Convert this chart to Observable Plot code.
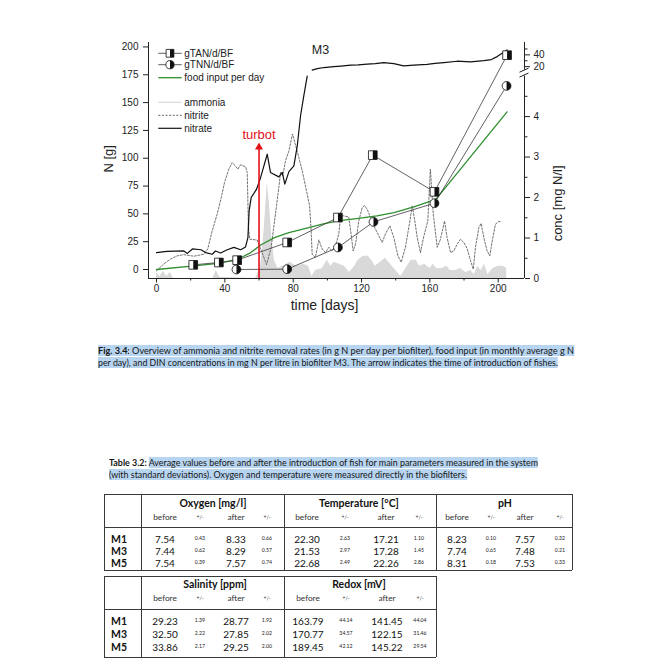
<!DOCTYPE html>
<html><head><meta charset="utf-8">
<script src="https://cdn.jsdelivr.net/npm/d3@7"></script>
<script src="https://cdn.jsdelivr.net/npm/@observablehq/plot@0.6"></script>
<style>
html,body{margin:0;padding:0;background:#fff;}
#page{position:relative;width:669px;height:669px;overflow:hidden;background:#fff;}
#chart{position:absolute;left:0;top:0;}
.cap{position:absolute;white-space:nowrap;font-family:Lato,'Open Sans',sans-serif;font-size:9.6px;line-height:11px;height:11px;color:#151515;transform-origin:0 50%;}
.cap .hl{background:#b7d4f0;}
.cap b{font-weight:700;}
.cell{position:absolute;transform:translate(-50%,-50%);white-space:nowrap;font-family:Lato,'Open Sans',sans-serif;color:#111;line-height:1;}
.title{font-weight:700;font-size:10.5px;}
.site{font-weight:700;font-size:10.5px;}
.sub{font-size:8.3px;color:#333;}
.pm{font-size:5px;color:#333;}
.val{font-size:10px;}
.sd{font-size:5.2px;color:#222;}
.ln{position:absolute;background:#3a3a3a;}
</style></head>
<body><div id="page"><div id="chart"></div></div>
<script>
// ---------------- data ----------------
const tanDays   = [21.5, 36.5, 47.2, 76.5, 106.2, 126.6, 162.7, 205.2];
const tanValues = [4.2, 6.3, 8.4, 24.3, 46.7, 102.8, 69.8, 192.6];
const tnnDays   = [46.8, 76.5, 106.2, 127.0, 162.7, 204.9];
const tnnValues = [0, 0.3, 19.8, 42.8, 59.6, 165];
const foodDays   = [0, 22, 36, 47, 55, 61, 69, 77.5, 88, 97, 106, 117, 129, 139, 150.6, 163.5, 205.2];
const foodValues = [0, 3.3, 5.5, 8.8, 15, 22, 28.7, 33.2, 37.2, 40.8, 43.7, 45.8, 48.2, 51.2, 56.3, 63, 141.7];
// concentrations on the right axis (mg N/l)
const nitrateDays = [0, 6, 16, 18, 21, 26, 28.7, 32.6, 34.5, 37.5, 41.4, 45.3, 49.2, 52.1, 53.5, 54.2, 55.4, 58.5, 60.9, 64.8, 66.7, 71.6, 73.6, 75.1, 77.5, 80.4, 82.4, 84.3, 86.2, 88.2,
  91.1, 94.1, 98, 103.8, 108, 113.6, 118, 123.3, 128, 133, 138.9, 144.7, 150.6, 158.4, 163, 168.2, 176, 183.8, 191.6, 196, 199.4, 205.2];
const nitrateConc = [0.64, 0.67, 0.68, 0.62, 0.73, 0.71, 0.64, 0.60, 0.68, 0.63, 0.71, 0.77, 0.71, 0.78, 1.01, 1.67, 2.0, 2.2, 2.49, 3.07, 2.62, 2.51, 2.62, 2.33, 2.64, 2.78, 3.28, 4.02, 4.51, 5.0,
  14, 16.6, 18.5, 20, 21, 22.5, 23, 24.2, 25, 26.8, 25.1, 21.3, 22.5, 23.9, 25.5, 26.8, 29.2, 28, 30.2, 32, 37, 48.3];
const nitriteDays = [0, 4.3, 8.2, 12.1, 16, 21.8, 27.7, 30, 32.6, 35.5, 37.9, 39.8, 42.3, 44.3, 46.2, 47.6, 49.2, 52.1, 53.1, 53.8, 54.6, 58.9, 61.8, 64.4, 67.1, 69.6, 71.6, 72.6, 73.9, 75.5, 77.5, 79.6, 82.3, 85.3, 88.2, 89.6, 90.5, 91.1, 93, 95, 97, 98.9, 100.9, 102.8, 104.8, 106.7, 107.7, 109.2, 112.5, 113.9, 115.1, 116.5, 118.4, 120.4, 121.7, 123.3, 125.3, 127.2, 129.6, 132.1, 134, 136.6, 138.9, 141.3, 143.2, 145.7, 148.3, 149.7, 151, 152.6, 154.5, 156.5, 158.8, 160.3, 162, 164.3, 166.2, 168.6, 170.1, 172.1, 174, 176, 177.9, 179.9, 181.9, 183.8, 185.4, 186.7, 188.7, 190, 191.6, 193.5, 195.1, 196.5, 198.4, 200.4, 201.8];
const nitriteConc = [0.19, 0.36, 0.48, 0.56, 0.59, 0.55, 0.60, 0.73, 1.18, 1.59, 2.0, 2.37, 2.70, 2.86, 2.78, 2.70, 2.81, 2.76, 2.62, 1.26, 0.97, 0.95, 0.64, 0.34, 0.77, 1.59, 2.25, 2.62, 2.54, 2.91, 3.15, 3.57, 3.15, 2.66, 2.08, 1.8, 1.18, 0.6, 0.52, 0.95, 0.73, 0.64, 0.77, 0.68, 0.81, 1.10, 1.51, 1.55, 1.52, 1.10, 0.68, 0.85, 1.42, 1.75, 1.8, 1.71, 1.51, 1.30, 1.10, 0.89, 1.10, 1.30, 1.01, 0.56, 0.40, 0.77, 1.42, 1.8, 1.47, 1.01, 0.64, 1.05, 1.42, 2.7, 1.59, 0.77, 0.97, 1.42, 1.01, 0.64, 0.68, 0.85, 0.97, 0.89, 0.73, 0.44, 0.23, 0.77, 1.26, 1.36, 1.01, 0.68, 0.56, 0.93, 1.34, 1.41, 1.40];
const ammoniaDays = [0, 2, 4, 6, 8, 10, 33, 35, 37, 58, 61, 63, 64.8, 66, 67.5, 69, 71, 74, 78, 82, 86, 89, 91, 93, 97, 100, 102, 104, 107, 110, 113, 116, 118, 121, 124, 126, 128, 131, 134, 137, 140, 143, 146, 149, 152, 154, 157, 160, 162, 164, 167, 170, 172, 175, 178, 181, 184, 186, 188, 190, 192, 194, 197, 200, 203, 205];
const ammoniaConc = [0.15, 0.05, 0.18, 0.05, 0.15, 0, 0, 0.2, 0.03, 0, 0.3, 1.2, 2.35, 1.9, 1.0, 0.45, 0.25, 0.3, 0.4, 0.3, 0.35, 0.3, 0.05, 0.2, 0.25, 0.45, 0.3, 0.4, 0.35, 0.3, 0.15, 0.3, 0.45, 0.55, 0.55, 0.45, 0.3, 0.4, 0.5, 0.35, 0.2, 0.05, 0.25, 0.45, 0.45, 0.3, 0.35, 0.25, 0.35, 0.25, 0.25, 0.3, 0.2, 0.2, 0.25, 0.15, 0.2, 0.1, 0.3, 0.2, 0.35, 0.1, 0.25, 0.3, 0.3, 0.25];
const events = [{day: 60, label: "turbot", top: 110}];

const titleText = "M3";
const xLabel = "time [days]";
const yLabel = "N [g]";
const y2Label = "conc [mg N/l]";
const legendLabels = ["gTAN/d/BF", "gTNN/d/BF", "food input per day", "ammonia", "nitrite", "nitrate"];

const xDomain = [-4.7, 215.4];
const yDomain = [-8.08, 204];
const xMajor = [0, 40, 80, 120, 160, 200];
const xMinor = [20, 60, 100, 140, 180];
const yTicks = [0, 25, 50, 75, 100, 125, 150, 175, 200];
const concMajor = [0, 1, 2, 3, 4, 20, 40];
const concMinor = [0.5, 1.5, 2.5, 3.5, 4.5, 30, 50];
const concBreak = [5.0, 14];   // right axis is broken between these concentrations

// caption / table texts
const figCaptionLabel = "Fig. 3.4:";
const figCaptionLines = ["Overview of ammonia and nitrite removal rates (in g N per day per biofilter), food input (in monthly average g N",
  "per day), and DIN concentrations in mg N per litre in biofilter M3. The arrow indicates the time of introduction of fishes."];
const tableCaptionLabel = "Table 3.2:";
const tableCaptionLines = ["Average values before and after the introduction of fish for main parameters measured in the system",
  "(with standard deviations). Oxygen and temperature were measured directly in the biofilters."];
const subHeaders = ["before", "+/-", "after", "+/-"];
const sites = ["M1", "M3", "M5"];
const oxygen      = [[7.54, 0.43, 8.33, 0.66], [7.44, 0.62, 8.29, 0.57], [7.54, 0.39, 7.57, 0.74]];
const temperature = [[22.30, 2.63, 17.21, 1.10], [21.53, 2.97, 17.28, 1.45], [22.68, 2.49, 22.26, 2.86]];
const pH          = [[8.23, 0.10, 7.57, 0.32], [7.74, 0.65, 7.48, 0.21], [8.31, 0.18, 7.53, 0.33]];
const salinity    = [[29.23, 1.39, 28.77, 1.92], [32.50, 2.22, 27.85, 2.02], [33.86, 2.17, 29.25, 2.00]];
const redox       = [[163.79, 44.14, 141.45, 44.04], [170.77, 34.57, 122.15, 31.46], [189.45, 42.12, 145.22, 29.54]];

// ---------------- chart ----------------
const FONT = "'Liberation Sans', Arial, Helvetica, sans-serif";
const RED = "#e3101a", GREEN = "#2f8f2f";
// right (conc) axis expressed in left-axis units: linear below the break, compressed above it
const lowPerUnit = 36.38, highAt20 = 182.3, highPerUnit = 0.53;
const toN = c => c <= concBreak[0] + 1e-9 ? yDomain[0] + lowPerUnit * c : highAt20 + (c - 20) * highPerUnit;

const tan = tanDays.map((d, i) => ({day: d, N: tanValues[i]}));
const tnn = tnnDays.map((d, i) => ({day: d, N: tnnValues[i]}));
const food = foodDays.map((d, i) => ({day: d, N: foodValues[i]}));
const nitrate = nitrateDays.map((d, i) => ({day: d, c: nitrateConc[i], seg: nitrateConc[i] > concBreak[0] ? "hi" : "lo"}));
const nitrite = nitriteDays.map((d, i) => ({day: d, c: nitriteConc[i]}));
const ammonia = ammoniaDays.map((d, i) => ({day: d, c: ammoniaConc[i]}));

const halfSquare = {draw(ctx, size) { const s = Math.sqrt(size) / 2; ctx.moveTo(0, -s); ctx.lineTo(s, -s); ctx.lineTo(s, s); ctx.lineTo(0, s); ctx.closePath(); }};
const halfCircle = {draw(ctx, size) { const r = Math.sqrt(size / Math.PI); ctx.moveTo(0, -r); ctx.arc(0, 0, r, -Math.PI / 2, Math.PI / 2); ctx.closePath(); }};

const rightLabel = new Map(concMajor.map(c => [toN(c), String(c)]));

function breakMark(index, scales, values, dims) {
  const x = dims.width - dims.marginRight;
  const yA = scales.y(toN(concBreak[0])), yB = scales.y(toN(concBreak[1]));
  const g = d3.create("svg:g").attr("stroke", "#222").attr("stroke-width", 1);
  [yA - 0.5, yB + 0.5].forEach(y => g.append("line").attr("x1", x - 4.5).attr("x2", x + 4.5).attr("y1", y + 2).attr("y2", y - 2));
  return g.node();
}

function legendMark(index, scales, values, dims) {
  const left = dims.marginLeft, top = dims.marginTop;
  const rows = [11.3, 22.7, 35.7, 60.3, 73.3, 86.3];
  const g = d3.create("svg:g").attr("font-family", FONT).attr("font-size", 10).attr("fill", "#222").attr("text-anchor", "start");
  const x0 = left + 10.3, x1 = left + 33.7, xc = (x0 + x1) / 2, tx = left + 36.3;
  const styles = [
    {stroke: "#333", w: 0.8}, {stroke: "#333", w: 0.8}, {stroke: GREEN, w: 1.3},
    {stroke: "#d2d2d2", w: 1}, {stroke: "#555", w: 0.9, dash: "2,1.6"}, {stroke: "#111", w: 1.2}
  ];
  legendLabels.forEach((lab, i) => {
    const y = top + rows[i], s = styles[i];
    g.append("line").attr("x1", x0).attr("x2", x1).attr("y1", y).attr("y2", y)
      .attr("stroke", s.stroke).attr("stroke-width", s.w).attr("stroke-dasharray", s.dash || null);
    if (i < 2) {
      const r = i === 0 ? 4.4 : 4.1;
      const full = d3.symbol(i === 0 ? d3.symbolSquare : d3.symbolCircle, r * r * Math.PI)();
      const half = d3.symbol(i === 0 ? halfSquare : halfCircle, r * r * Math.PI)();
      g.append("path").attr("d", full).attr("transform", `translate(${xc},${y})`).attr("fill", "white").attr("stroke", "#111").attr("stroke-width", 0.8);
      g.append("path").attr("d", half).attr("transform", `translate(${xc},${y})`).attr("fill", "#111");
    }
    g.append("text").attr("x", tx).attr("y", y).attr("dy", "0.35em").attr("text-anchor", "start").text(lab);
  });
  return g.node();
}

const chart = Plot.plot({
  width: 669, height: 320,
  marginLeft: 148, marginRight: 145, marginTop: 42, marginBottom: 42,
  style: {fontFamily: FONT, fontSize: "10px", color: "#222", background: "transparent", overflow: "visible"},
  x: {domain: xDomain},
  y: {domain: yDomain},
  marks: [
    Plot.areaY(ammonia, {x: "day", y1: () => yDomain[0], y2: d => toN(d.c), fill: "#d9d9d9"}),
    Plot.line(nitrite, {x: "day", y: d => toN(d.c), stroke: "#5a5a5a", strokeWidth: 0.85, strokeDasharray: "2,1.6"}),
    Plot.line(nitrate, {x: "day", y: d => toN(d.c), z: "seg", stroke: "#111", strokeWidth: 1.2}),
    Plot.line(food, {x: "day", y: "N", stroke: GREEN, strokeWidth: 1.3}),
    Plot.line(tan, {x: "day", y: "N", stroke: "#3a3a3a", strokeWidth: 0.8}),
    Plot.line(tnn, {x: "day", y: "N", stroke: "#3a3a3a", strokeWidth: 0.8}),
    Plot.dot(tan, {x: "day", y: "N", symbol: "square", r: 4.9, fill: "white", stroke: "#111", strokeWidth: 0.8}),
    Plot.dot(tan, {x: "day", y: "N", symbol: halfSquare, r: 4.9, fill: "#111"}),
    Plot.dot(tnn, {x: "day", y: "N", r: 4.4, fill: "white", stroke: "#111", strokeWidth: 0.8}),
    Plot.dot(tnn, {x: "day", y: "N", symbol: halfCircle, r: 4.4, fill: "#111"}),
    Plot.ruleX(events, {x: "day", y1: () => yDomain[0], y2: "top", stroke: RED, strokeWidth: 1.6}),
    Plot.dot(events, {x: "day", y: "top", symbol: "triangle", r: 3, fill: RED}),
    Plot.text(events, {x: "day", y: "top", text: "label", dy: -12, fill: RED, fontSize: 13}),
    // frame
    Plot.ruleY([yDomain[0]], {stroke: "#222", strokeWidth: 1}),
    Plot.ruleX([xDomain[0]], {stroke: "#222", strokeWidth: 1}),
    Plot.ruleX([xDomain[1]], {y1: () => yDomain[0], y2: () => toN(concBreak[0]), stroke: "#222", strokeWidth: 1}),
    Plot.ruleX([xDomain[1]], {y1: () => toN(concBreak[1]), y2: () => yDomain[1], stroke: "#222", strokeWidth: 1}),
    breakMark,
    // axes
    Plot.axisX(xMajor, {tickSize: 4.5, tickPadding: 2, fontSize: 10, label: null}),
    Plot.axisX(xMinor, {tickSize: 2.5, tickFormat: () => "", label: null}),
    Plot.axisY(yTicks, {anchor: "left", tickSize: 5, tickPadding: 5, fontSize: 10, label: null}),
    Plot.axisY(concMajor.map(toN), {anchor: "right", tickSize: 5, tickPadding: 4, fontSize: 10, tickFormat: d => rightLabel.get(d), label: null}),
    Plot.axisY(concMinor.map(toN), {anchor: "right", tickSize: 2.5, tickFormat: () => "", label: null}),
    Plot.text([xLabel], {text: d => d, frameAnchor: "bottom", dx: -12, dy: 31, fontSize: 14}),
    Plot.text([yLabel], {text: d => d, frameAnchor: "left", dx: -40, dy: 12, rotate: -90, fontSize: 13}),
    Plot.text([y2Label], {text: d => d, frameAnchor: "right", dx: 33, dy: 5, rotate: -90, fontSize: 13}),
    Plot.text([titleText], {text: d => d, frameAnchor: "top", dx: -16, dy: 3, fontSize: 12.5}),
    legendMark
  ]
});
document.getElementById("chart").appendChild(chart);

// ---------------- captions ----------------
const page = document.getElementById("page");
function capLine(parts, left, cy, width) {
  const div = document.createElement("div");
  div.className = "cap";
  div.style.left = left + "px";
  div.style.top = (cy - 5.5) + "px";
  parts.forEach(p => {
    const s = document.createElement(p.bold ? "b" : "span");
    if (p.hl) s.className = "hl";
    s.textContent = p.text;
    div.appendChild(s);
  });
  page.appendChild(div);
  const w = div.getBoundingClientRect().width;
  div.style.transform = `scaleX(${width / w})`;
}
capLine([{text: figCaptionLabel, bold: true, hl: true}, {text: " " + figCaptionLines[0], hl: true}], 98, 350.7, 476);
capLine([{text: figCaptionLines[1], hl: true}], 98, 362.3, 460);
capLine([{text: tableCaptionLabel, bold: true}, {text: " "}, {text: tableCaptionLines[0], hl: true}], 109, 462.3, 429);
capLine([{text: tableCaptionLines[1], hl: true}], 109, 474, 358);

// ---------------- tables ----------------
function addLine(x, y, w, h) {
  const d = document.createElement("div"); d.className = "ln";
  Object.assign(d.style, {left: x + "px", top: y + "px", width: w + "px", height: h + "px"});
  page.appendChild(d);
}
function addText(t, x, y, cls) {
  const d = document.createElement("div"); d.className = "cell " + cls;
  d.style.left = x + "px"; d.style.top = y + "px"; d.textContent = t;
  page.appendChild(d);
}
function buildTable(spec) {
  const {left, right, top, bottom, vlines, sepY, titleY, subY, rowYs, groups, labelX} = spec;
  addLine(left, top, right - left, 0.8);
  addLine(left, bottom, right - left, 0.8);
  addLine(left, sepY, right - left, 0.8);
  addLine(left, top, 1, bottom - top);
  addLine(right, top, 1, bottom - top);
  vlines.forEach((x, i) => addLine(x, top, i === 0 ? 1.5 : 1, bottom - top));
  groups.forEach(g => {
    addText(g.title, g.titleX, titleY, "title");
    subHeaders.forEach((s, j) => addText(s, g.cols[j], subY, j % 2 ? "pm" : "sub"));
    g.data.forEach((row, r) => row.forEach((v, j) => addText(v.toFixed(2), g.cols[j], rowYs[r], j % 2 ? "sd" : "val")));
  });
  sites.forEach((s, r) => addText(s, labelX, rowYs[r], "site"));
}
buildTable({
  left: 103.5, right: 572, top: 494, bottom: 569.5, vlines: [140.5, 284, 436], sepY: 527, titleY: 503, subY: 516.5,
  rowYs: [538.5, 550.5, 562.5], labelX: 119,
  groups: [
    {title: "Oxygen [mg/l]", titleX: 213, cols: [165, 200, 236, 267], data: oxygen},
    {title: "Temperature [°C]", titleX: 359, cols: [307, 345, 386, 419], data: temperature},
    {title: "pH", titleX: 505, cols: [457, 491, 525, 560], data: pH}
  ]
});
buildTable({
  left: 103.5, right: 436, top: 576, bottom: 657, vlines: [140.5, 284], sepY: 609, titleY: 584, subY: 598,
  rowYs: [621, 634, 647], labelX: 119,
  groups: [
    {title: "Salinity [ppm]", titleX: 215, cols: [165, 200, 236, 267], data: salinity},
    {title: "Redox [mV]", titleX: 359, cols: [308, 346, 387, 420], data: redox}
  ]
});
</script>
</body></html>
